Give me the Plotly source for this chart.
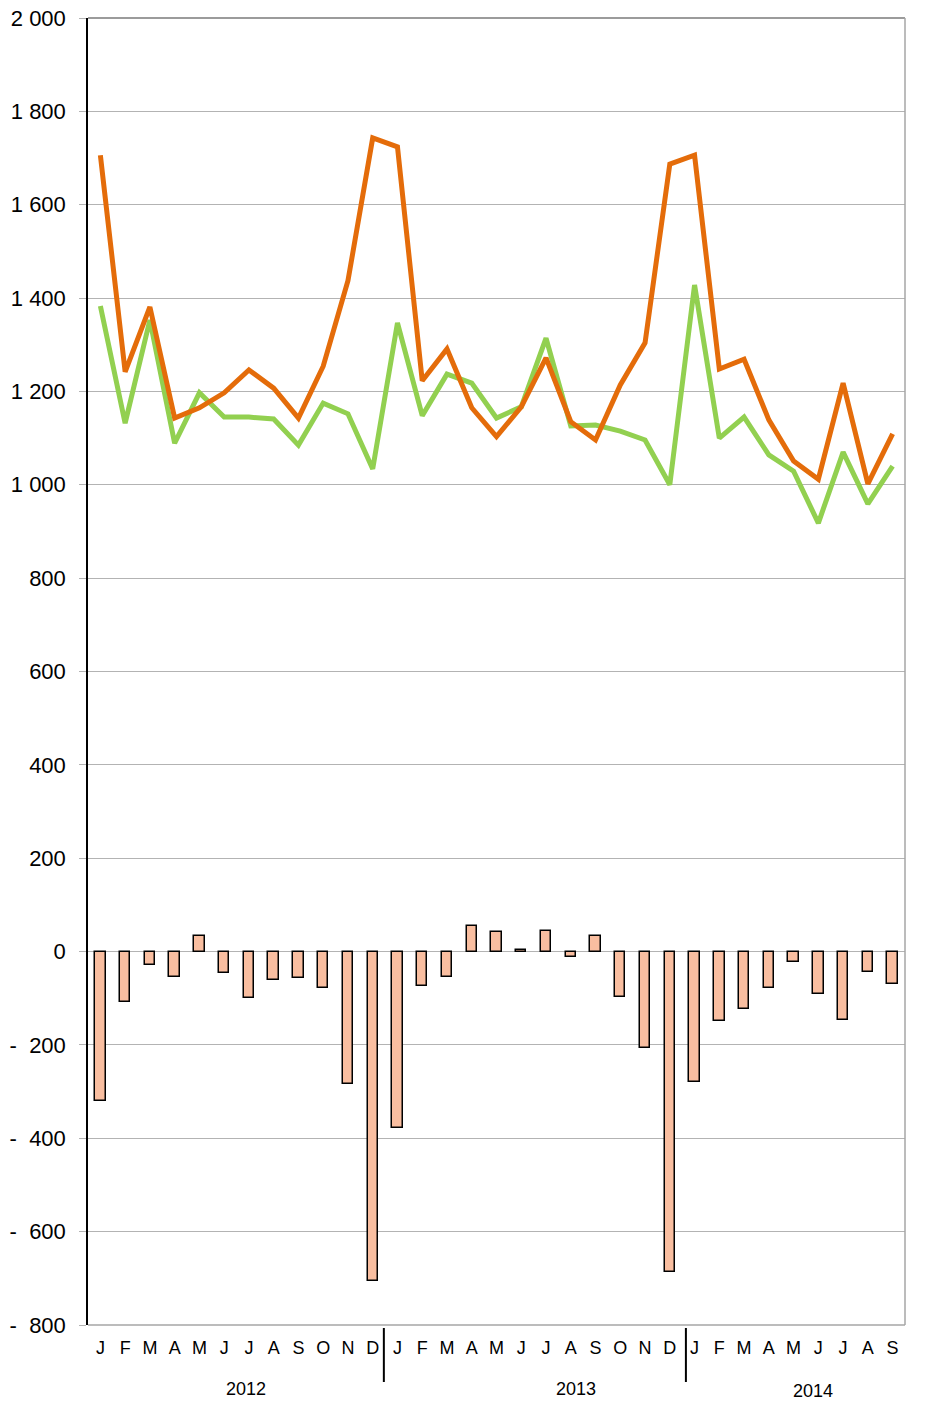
import plotly.graph_objects as go

months = ["J","F","M","A","M","J","J","A","S","O","N","D",
          "J","F","M","A","M","J","J","A","S","O","N","D",
          "J","F","M","A","M","J","J","A","S"]
years = ["2012", "2013", "2014"]

orange = [1706, 1242, 1381, 1143, 1165, 1197, 1246, 1207, 1143, 1254, 1437, 1743,
          1724, 1223, 1291, 1165, 1103, 1167, 1272, 1135, 1096, 1214, 1304, 1687,
          1706, 1248, 1269, 1139, 1051, 1012, 1218, 1002, 1109]
green = [1383, 1132, 1353, 1089, 1197, 1145, 1145, 1141, 1085, 1175, 1152, 1034,
         1347, 1148, 1237, 1218, 1143, 1167, 1314, 1126, 1128, 1115, 1096, 1000,
         1428, 1100, 1145, 1064, 1029, 918, 1070, 959, 1040]
diff = [-320, -108, -29, -54, 33, -46, -100, -61, -57, -78, -283, -706,
        -378, -74, -54, 55, 42, 4, 44, -12, 33, -97, -207, -687,
        -280, -149, -123, -78, -22, -91, -147, -44, -69]

ytick_vals = list(range(-800, 2001, 200))
def fmt(v):
    s = f"{abs(v):,}".replace(",", "\u00a0")
    return ("-\u00a0\u00a0" + s) if v < 0 else s
ytick_text = [fmt(v) for v in ytick_vals]

x = list(range(len(months)))
FONT = "Arial, Liberation Sans, sans-serif"

fig = go.Figure()
fig.add_trace(go.Bar(x=x, y=diff, width=0.42,
                     marker=dict(color="#F9BEA0", line=dict(color="black", width=1.5)),
                     showlegend=False))
fig.add_trace(go.Scatter(x=x, y=green, mode="lines",
                         line=dict(color="#92D050", width=5), showlegend=False))
fig.add_trace(go.Scatter(x=x, y=orange, mode="lines",
                         line=dict(color="#E46C0A", width=5), showlegend=False))

# page body has an 8px margin, so the figure is sized/offset to compensate
fig.update_layout(
    width=930, height=1396,
    margin=dict(l=80, r=33, t=10, b=79, autoexpand=False),
    plot_bgcolor="white", paper_bgcolor="white",
    font=dict(family=FONT, color="black"),
    bargap=0,
)
fig.update_yaxes(range=[-800, 2000], tickvals=ytick_vals, ticktext=ytick_text,
                 showgrid=True, gridcolor="#B3B3B3", gridwidth=1,
                 ticks="outside", ticklen=7, tickcolor="#B3B3B3",
                 tickfont=dict(size=22, family=FONT, color="black"),
                 showline=True, linecolor="black", linewidth=1.5,
                 zeroline=False, ticklabelstandoff=9, automargin=False,
                 ticklabeloverflow="allow")
fig.update_xaxes(range=[-0.5, len(months) - 0.5], tickvals=x, ticktext=months,
                 showgrid=False, zeroline=False, showline=False,
                 ticks="", tickfont=dict(size=18, family=FONT, color="black"),
                 ticklabelstandoff=10, automargin=False,
                 ticklabeloverflow="allow")

# plot border (top, right, bottom)
fig.add_shape(type="line", xref="paper", yref="paper", x0=0, x1=1, y0=1, y1=1,
              line=dict(color="#7A7A7A", width=1.5))
fig.add_shape(type="line", xref="paper", yref="paper", x0=1, x1=1, y0=0, y1=1,
              line=dict(color="#A6A6A6", width=1.5))
fig.add_shape(type="line", xref="paper", yref="paper", x0=0, x1=1, y0=0, y1=0,
              line=dict(color="#A6A6A6", width=1.5))

# year separators
for xs in [11.45, 23.65]:
    fig.add_shape(type="line", xref="x", yref="paper", x0=xs, x1=xs,
                  y0=-0.0023, y1=-0.0436, line=dict(color="black", width=2))

year_pos = [5.9, 19.2, 28.8]
year_y = [-0.049, -0.049, -0.0505]
for yr, xp, yp in zip(years, year_pos, year_y):
    fig.add_annotation(text=yr, x=xp, y=yp, xref="x", yref="paper",
                       showarrow=False, yanchor="middle",
                       font=dict(size=18, family=FONT, color="black"))

fig.write_html("out.html")
